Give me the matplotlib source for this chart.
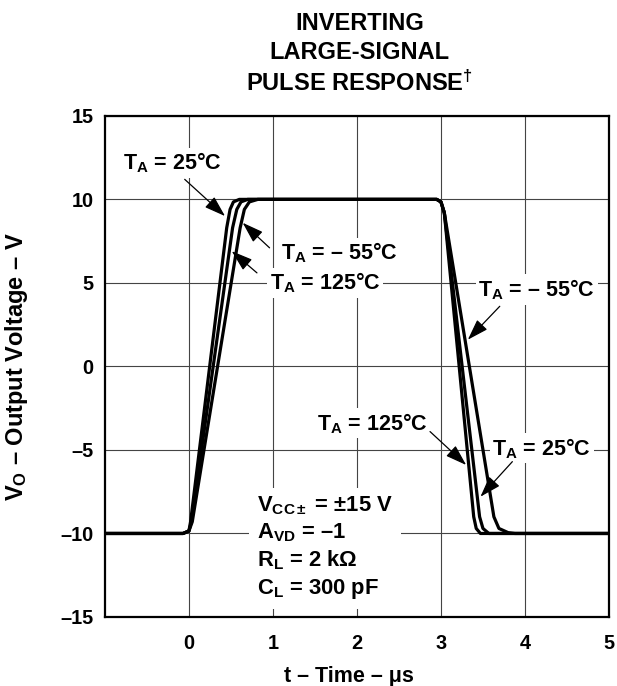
import numpy as np
import matplotlib
matplotlib.use("Agg")
import matplotlib.pyplot as plt

plt.rcParams['font.family'] = ['Liberation Sans', 'DejaVu Sans']
plt.rcParams['font.weight'] = 'bold'
plt.rcParams['mathtext.fontset'] = 'custom'
plt.rcParams['mathtext.rm'] = 'Liberation Sans:bold'
plt.rcParams['mathtext.it'] = 'Liberation Sans:bold'
plt.rcParams['mathtext.bf'] = 'Liberation Sans:bold'
plt.rcParams['mathtext.default'] = 'rm'

# pulse response (t in us, V in volts)
t_25 = [-1.0, -0.07, 0.0, 0.02, 0.45, 0.49, 0.53, 0.60, 2.95, 3.00, 3.04, 3.46, 3.50, 3.57, 5.0]
v_25 = [-10, -10, -9.85, -9.3, 8.3, 9.4, 9.85, 10, 10, 9.85, 9.2, -9.0, -9.7, -10, -10]

t_125 = [-1.0, -0.07, 0.0, 0.03, 0.52, 0.57, 0.62, 0.70, 2.95, 3.00, 3.04, 3.39, 3.42, 3.47, 5.0]
v_125 = [-10, -10, -9.85, -9.3, 8.3, 9.4, 9.85, 10, 10, 9.85, 9.2, -9.0, -9.7, -10, -10]

t_m55 = [-1.0, -0.07, 0.0, 0.04, 0.61, 0.66, 0.72, 0.82, 2.95, 3.00, 3.04, 3.63, 3.69, 3.80, 3.88, 5.0]
v_m55 = [-10, -10, -9.85, -9.3, 8.3, 9.4, 9.85, 10, 10, 9.85, 9.2, -9.0, -9.7, -9.95, -10, -10]

xticks = [0, 1, 2, 3, 4, 5]
yticks = [-15, -10, -5, 0, 5, 10, 15]

fig = plt.figure(figsize=(6.17, 6.86), dpi=100)
ax = fig.add_axes([0.170, 0.1006, 0.817, 0.7305])

for t, v in [(t_25, v_25), (t_125, v_125), (t_m55, v_m55)]:
    ax.plot(t, v, color='black', lw=2.3, solid_joinstyle='round', solid_capstyle='butt', zorder=2)

ax.set_xlim(-1, 5)
ax.set_ylim(-15, 15)
ax.set_xticks(xticks)
ax.set_yticks(yticks)
ax.set_yticklabels([str(y).replace('-', '\u2013') for y in yticks])
ax.tick_params(axis='both', length=0, labelsize=14.3)
ax.tick_params(axis='x', pad=12)
ax.tick_params(axis='y', pad=8)
ax.set_axisbelow(True)
ax.grid(True, color='#444444', lw=0.8)
for s in ax.spines.values():
    s.set_linewidth(1.6)

ax.set_xlabel('t \u2013 Time \u2013 \u03bcs', fontsize=15.5, fontweight='bold')
ax.xaxis.set_label_coords(0.485, -0.098)
ax.set_ylabel('V$_\\mathrm{O}$ \u2013 Output Voltage \u2013 V', fontsize=17, fontweight='bold')
ax.yaxis.set_label_coords(-0.148, 0.5)

fig.text(0.583, 0.921, 'INVERTING\nLARGE-SIGNAL\nPULSE RESPONSE$^{\\dagger}$',
         ha='center', va='center', fontsize=17, fontweight='bold', linespacing=1.32)

box = dict(facecolor='white', edgecolor='none', pad=2)
arr = dict(arrowstyle='-|>,head_length=1.0,head_width=0.33', color='black', lw=0.9,
           shrinkA=0, shrinkB=0, mutation_scale=13)

labels = [
    ('T$_\\mathrm{A}$ = 25\u00b0C', (-0.20, 12.2), (-0.05, 11.2), (0.43, 9.0)),
    ('T$_\\mathrm{A}$ = \u2013 55\u00b0C', (1.79, 6.8), (0.96, 7.1), (0.64, 8.6)),
    ('T$_\\mathrm{A}$ = 125\u00b0C', (1.62, 5.0), (0.81, 5.6), (0.51, 6.9)),
    ('T$_\\mathrm{A}$ = \u2013 55\u00b0C', (4.14, 4.6), (3.70, 3.6), (3.32, 1.6)),
    ('T$_\\mathrm{A}$ = 125\u00b0C', (2.18, -3.4), (2.87, -3.9), (3.30, -5.9)),
    ('T$_\\mathrm{A}$ = 25\u00b0C', (4.20, -4.9), (3.85, -5.7), (3.47, -7.8)),
]
for txt, pos, tail, tip in labels:
    ax.text(pos[0], pos[1], txt, ha='center', va='center', fontsize=15.5,
            fontweight='bold', bbox=box, zorder=3)
    ax.annotate('', xy=tip, xytext=tail, arrowprops=arr, zorder=4)

cond = ('V$_\\mathrm{CC\\pm}$ = \u00b115 V\n'
        'A$_\\mathrm{VD}$ = \u20131\n'
        'R$_\\mathrm{L}$ = 2 k\u03a9\n'
        'C$_\\mathrm{L}$ = 300 pF')
ax.text(0.81, -10.85, cond, ha='left', va='center', fontsize=15.8, fontweight='bold',
        linespacing=1.25, bbox=dict(facecolor='white', edgecolor='none', pad=6), zorder=3)

fig.savefig('out.png', dpi=100)
